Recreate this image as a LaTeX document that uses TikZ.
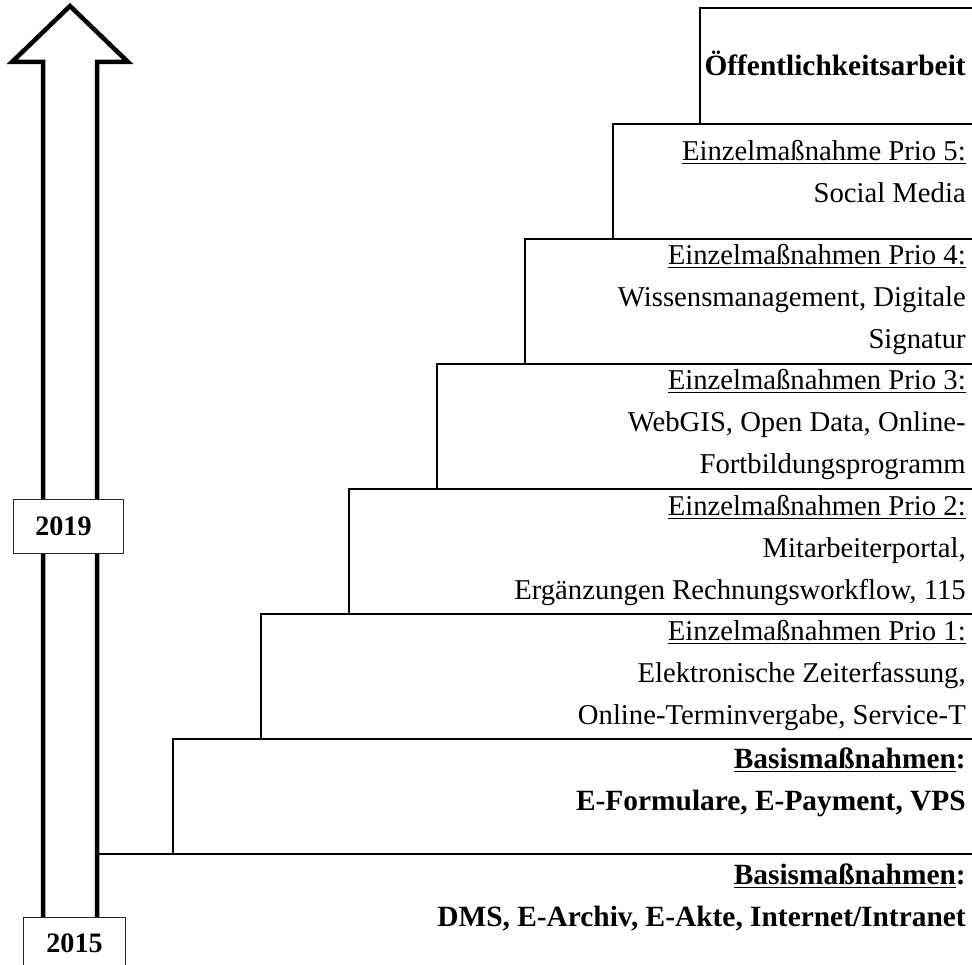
\documentclass[tikz,border=0pt]{standalone}
\usepackage{fontspec}
\setmainfont{Liberation Serif}

\tikzset{
    stepline/.style={line width=2.1pt, line cap=rect},
    yearbox/.style={draw=black!85, line width=0.7pt, fill=white, inner sep=0pt, font=\fontsize{20}{24}\selectfont\bfseries},
    leveltext/.style={anchor=north east, align=right, inner sep=0pt, font=\fontsize{20.4}{29.8}\selectfont},
    basistext/.style={leveltext, font=\fontsize{20.9}{29.8}\selectfont\bfseries},
}

\begin{document}
\begin{tikzpicture}[x=0.025cm, y=-0.025cm]
        % page frame in pixel units
        \useasboundingbox (0,0) rectangle (972,965);

        % Staircase: one open step per level (x of left edge / top / bottom)
        \foreach \xl/\yt/\yb in {700/8/124, 613/124/239, 525/239/364, 437/364/489, 349/489/614, 261/614/739, 173/739/854}
            \draw[stepline] (972,\yt) -- (\xl,\yt) -- (\xl,\yb);
        \draw[stepline] (972,854) -- (97,854);

        % Time arrow
        \draw[line width=3.2pt, miter limit=10] (43,950) -- (43,62) -- (12,62) -- (70,6) -- (128,62) -- (97,62) -- (97,950);

        % Year boxes
        \node[yearbox, minimum width=2.725cm, minimum height=1.35cm] (y2019) at (68.5,526) {2019\hspace*{0.25cm}};
        \node[yearbox, anchor=north, minimum width=2.525cm, inner ysep=0.4cm, text depth=1.2cm] (y2015) at (74.5,917) {2015};

        % Level texts
        \node[basistext] (oeff) at (966,51) {Öffentlichkeitsarbeit};
        \node[leveltext] (prio5) at (966,140) {\underline{Einzelmaßnahme Prio 5:}\\Social Media};
        \node[leveltext] (prio4) at (966,244) {\underline{Einzelmaßnahmen Prio 4:}\\Wissensmanagement, Digitale\\Signatur};
        \node[leveltext] (prio3) at (966,369) {\underline{Einzelmaßnahmen Prio 3:}\\WebGIS, Open Data, Online-\\Fortbildungsprogramm};
        \node[leveltext] (prio2) at (966,495) {\underline{Einzelmaßnahmen Prio 2:}\\Mitarbeiterportal,\\Ergänzungen Rechnungsworkflow, 115};
        \node[leveltext] (prio1) at (966,620) {\underline{Einzelmaßnahmen Prio 1:}\\Elektronische Zeiterfassung,\\Online-Terminvergabe, Service-T};
        \node[basistext] (basis2) at (966,748) {\underline{Basismaßnahmen}:\\E-Formulare, E-Payment, VPS};
        \node[basistext] (basis1) at (966,864) {\underline{Basismaßnahmen}:\\DMS, E-Archiv, E-Akte, Internet/Intranet};

\end{tikzpicture}
\end{document}
